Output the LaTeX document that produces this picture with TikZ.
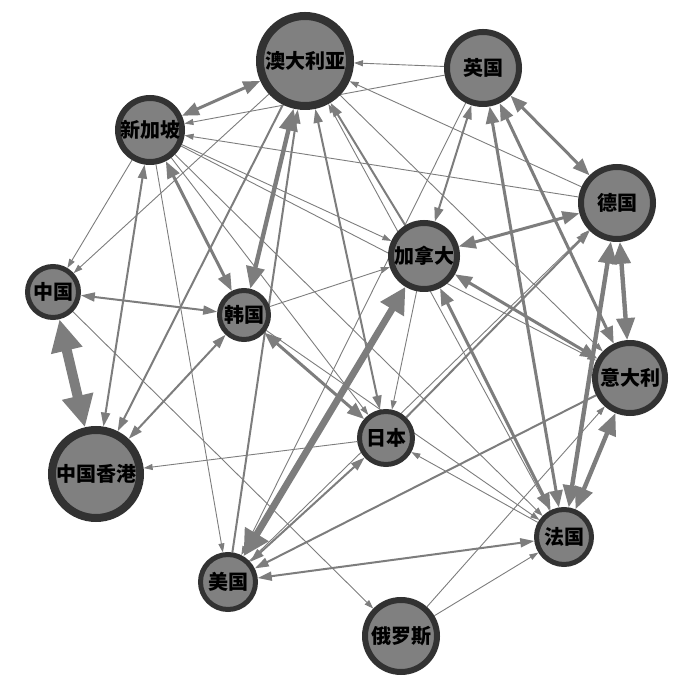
\documentclass[tikz,border=0pt]{standalone}
\usepackage{fontspec}
\newfontfamily\cjk{Noto Sans CJK SC}
\usetikzlibrary{arrows.meta,backgrounds}

\definecolor{nodegray}{RGB}{128,128,128}
\definecolor{rimgray}{RGB}{50,50,50}
\definecolor{edgegray}{RGB}{125,125,125}

\tikzset{
  country/.style = {circle, draw=rimgray, fill=nodegray, inner sep=0pt,
    font=\cjk\bfseries\fontsize{10}{10}\selectfont},
  flow1/.style = {draw=edgegray, line width=0.45pt, >={Triangle[length=4.5pt, width=3pt]}},
  flow2/.style = {draw=edgegray, line width=1pt, >={Triangle[length=7pt, width=4.5pt]}},
  flow3/.style = {draw=edgegray, line width=1.5pt, >={Triangle[length=8.5pt, width=6.5pt]}},
  flow4/.style = {draw=edgegray, line width=2.2pt, >={Triangle[length=11pt, width=9pt]}},
  flow5/.style = {draw=edgegray, line width=3.4pt, >={Triangle[length=13pt, width=13pt]}},
  flow6/.style = {draw=edgegray, line width=5pt, >={Triangle[length=16pt, width=15pt]}},
}

\begin{document}
\begin{tikzpicture}[
    x = 0.5pt,
    y = -0.5pt,
    ]
    \useasboundingbox (0,0) rectangle (700,688);
    % countries: name / x / y / outer radius / rim / label
    \foreach \id/\px/\py/\r/\b/\lab in {
        au/305/61/49/4/澳大利亚, uk/483/68/39/3/英国, sg/150/130/35/3/新加坡,
        de/617/203/39/3/德国, ca/424/256/36/3/加拿大, cn/53/292/28/2.5/中国,
        kr/244/315/27/2.5/韩国, it/630/378/38/3/意大利, jp/386/438/29/2.5/日本,
        hk/96/474/48/4/中国香港, fr/564/537/30/2.5/法国, us/228/582/30/2.5/美国,
        ru/401/636/39/3/俄罗斯}
    \node[country, line width=\b pt, minimum size={(\r-\b)*1pt}] (\id) at (\px,\py) {\lab};
    \begin{pgfonlayer}{background}
      % heavy flows
      \draw[flow6, <->] (cn) -- (hk);
      \draw[flow5, <->] (ca) -- (us);
      \draw[flow4, <->] (au) -- (kr);
      \draw[flow4, <->] (de) -- (it);
      \draw[flow4, <->] (de) -- (fr);
      \draw[flow4, <->] (it) -- (fr);
      % medium flows
      \draw[flow3, <->] (sg) -- (au);
      \draw[flow3, <->] (sg) -- (kr);
      \draw[flow3, <->] (uk) -- (de);
      \draw[flow3, <->] (uk) -- (fr);
      \draw[flow3, <->] (uk) -- (it);
      \draw[flow3, <->] (ca) -- (de);
      \draw[flow3, <->] (ca) -- (it);
      \draw[flow3, <->] (ca) -- (fr);
      \draw[flow3, <->] (kr) -- (jp);
      \draw[flow2, <->] (kr) -- (cn);
      \draw[flow2, <->] (sg) -- (hk);
      \draw[flow2, <->] (kr) -- (hk);
      \draw[flow2, <->] (au) -- (jp);
      \draw[flow2, <->] (uk) -- (ca);
      \draw[flow2, <->] (jp) -- (us);
      \draw[flow2, <->] (fr) -- (us);
      \draw[flow2, ->] (au) -- (hk);
      \draw[flow2, ->] (us) -- (au);
      \draw[flow2, ->] (ca) -- (au);
      \draw[flow2, ->] (jp) -- (de);
      \draw[flow2, ->] (it) -- (us);
      % thin flows
      \draw[flow1, ->] (uk) -- (au);
      \draw[flow1, ->] (uk) -- (sg);
      \draw[flow1, ->] (sg) -- (cn);
      \draw[flow1, ->] (au) -- (cn);
      \draw[flow1, ->] (jp) -- (hk);
      \draw[flow1, ->] (sg) -- (us);
      \draw[flow1, ->] (cn) -- (ru);
      \draw[flow1, ->] (fr) -- (au);
      \draw[flow1, ->] (uk) -- (us);
      \draw[flow1, ->] (de) -- (au);
      \draw[flow1, ->] (de) -- (sg);
      \draw[flow1, ->] (au) -- (it);
      \draw[flow1, ->] (sg) -- (it);
      \draw[flow1, ->] (sg) -- (ca);
      \draw[flow1, ->] (kr) -- (ca);
      \draw[flow1, ->] (ca) -- (jp);
      \draw[flow1, ->] (us) -- (de);
      \draw[flow1, ->] (ru) -- (it);
      \draw[flow1, ->] (ru) -- (fr);
      \draw[flow1, ->] (fr) -- (jp);
      \draw[flow1, ->] (sg) -- (jp);
      \draw[flow1, ->] (sg) -- (fr);
      \draw[flow1, ->] (kr) -- (fr);
    \end{pgfonlayer}
\end{tikzpicture}
\end{document}
